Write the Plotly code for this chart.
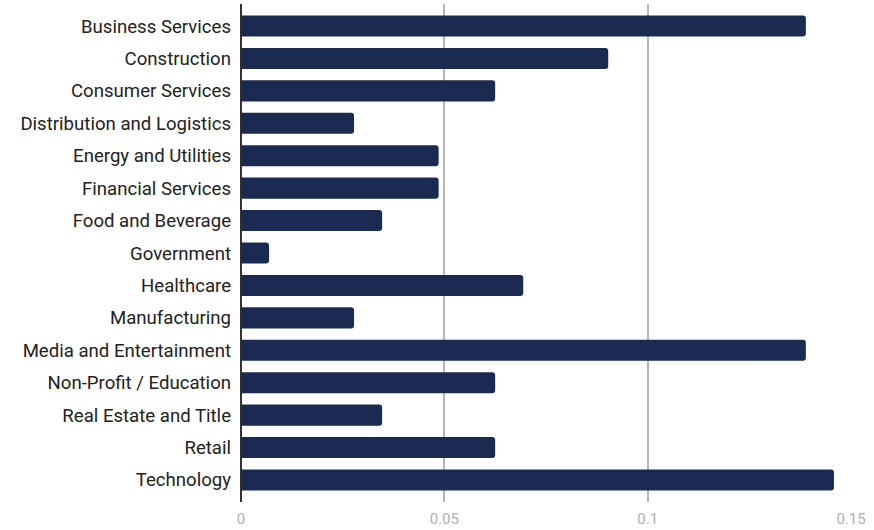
import plotly.graph_objects as go

categories = ["Business Services", "Construction", "Consumer Services",
              "Distribution and Logistics", "Energy and Utilities", "Financial Services",
              "Food and Beverage", "Government", "Healthcare", "Manufacturing",
              "Media and Entertainment", "Non-Profit / Education", "Real Estate and Title",
              "Retail", "Technology"]
values = [0.1389, 0.0903, 0.0625, 0.0278, 0.0486, 0.0486, 0.0347, 0.0069,
          0.0694, 0.0278, 0.1389, 0.0625, 0.0347, 0.0625, 0.1458]
x_ticks = [0, 0.05, 0.1, 0.15]
x_tick_labels = ["0", "0.05", "0.1", "0.15"]

fig = go.Figure(go.Bar(
    x=values, y=categories, orientation="h",
    marker=dict(color="#1b2a50", line=dict(width=0)),
))

pad = 0.18
fig.update_layout(
    width=874, height=530,
    margin=dict(l=241, r=23, t=4, b=28, autoexpand=False),
    paper_bgcolor="white", plot_bgcolor="white",
    bargap=0.35,
    barcornerradius=3,
    font=dict(family="Roboto", color="#222222"),
    showlegend=False,
    xaxis=dict(
        range=[0, 0.15], tickvals=x_ticks, ticktext=x_tick_labels,
        showgrid=True, gridcolor="#b5b5b5", gridwidth=1.5,
        zeroline=True, zerolinecolor="#333333", zerolinewidth=1.5,
        tickfont=dict(size=15, color="#b0b0b0"), ticks="", showline=False,
        ticklabelstandoff=6, fixedrange=True,
    ),
    yaxis=dict(
        categoryorder="array", categoryarray=categories,
        autorange=False, range=[len(categories) - 0.5 + pad, -0.5 - pad],
        tickfont=dict(size=18.6, color="#222222"), ticks="", showgrid=False,
        ticklabelstandoff=9, fixedrange=True,
    ),
)

fig.write_html("out.html", config={"displayModeBar": False},
               post_script="document.body.style.margin='0';")
